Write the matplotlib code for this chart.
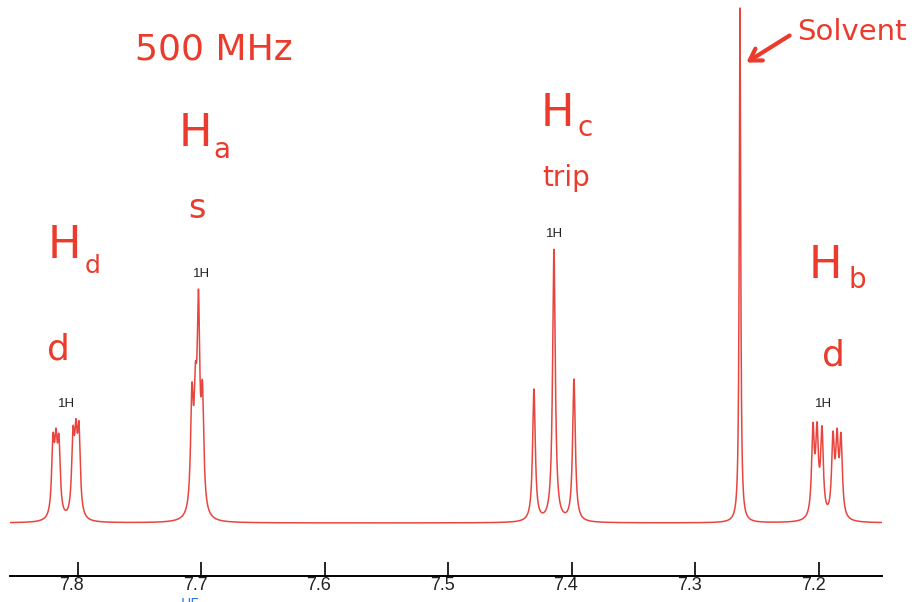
import numpy as np
import matplotlib.pyplot as plt
from matplotlib.transforms import ScaledTranslation

# chemical shift window (ppm), drawn high -> low
ppm_left = 7.855
ppm_right = 7.149
tick_ppm = [7.8, 7.7, 7.6, 7.5, 7.4, 7.3, 7.2]

# peak lists per multiplet: line positions (ppm) and heights
hd_shifts = [7.8202, 7.8178, 7.8154, 7.8040, 7.8016, 7.7992]
hd_heights = [70, 62, 68, 74, 68, 80]

ha_shifts = [7.7077, 7.7049, 7.7024, 7.6992]
ha_heights = [110, 95, 192, 108]

hc_shifts = [7.4308, 7.4146, 7.3984]
hc_heights = [132, 272, 142]

solvent_shift = [7.2640]
solvent_height = [515]

hb_shifts = [7.2049, 7.2016, 7.1976, 7.1887, 7.1854, 7.1822]
hb_heights = [86, 80, 84, 76, 72, 76]

# integration labels: position (ppm) and height above baseline
integral_ppm = [7.809, 7.700, 7.414, 7.196]
integral_text = ['1H', '1H', '1H', '1H']
integral_y = [113, 243, 283, 113]

RED = '#e8453f'
INK = '#ea3b2c'
W, H = 919, 602


def lorentz(x, x0, h, hw):
    return h / (1 + ((x - x0) / hw) ** 2)


def spectrum(x):
    y = np.zeros_like(x)
    for shifts, heights in [(hd_shifts, hd_heights), (ha_shifts, ha_heights),
                            (hc_shifts, hc_heights), (hb_shifts, hb_heights)]:
        for s, h in zip(shifts, heights):
            y += lorentz(x, s, h, 0.0013)
    for s, h in zip(solvent_shift, solvent_height):
        y += lorentz(x, s, h, 0.0007)
    return y


fig = plt.figure(figsize=(W / 100, H / 100), dpi=100)
ax = fig.add_axes([10 / W, 26 / H, 872 / W, 1 - 26 / H])

x = np.linspace(ppm_left, ppm_right, 14000)
ax.plot(x, spectrum(x), color=RED, lw=1.1)

ax.set_xlim(ppm_left, ppm_right)
ax.set_ylim(-53, 523)
for side in ['top', 'left', 'right']:
    ax.spines[side].set_visible(False)
ax.spines['bottom'].set_linewidth(1.4)
ax.set_yticks([])
ax.set_xticks(tick_ppm)
ax.set_xticklabels([f'{t:.1f}' for t in tick_ppm], family='Liberation Sans',
                   fontsize=13, color='#222222')
ax.tick_params(axis='x', direction='in', length=10, width=1.2, pad=1)
# the scale prints its numbers a little left of each tick
shift = ScaledTranslation(-6 / 100, 0, fig.dpi_scale_trans)
for lab in ax.get_xticklabels():
    lab.set_transform(lab.get_transform() + shift)

for p, t, yy in zip(integral_ppm, integral_text, integral_y):
    ax.text(p, yy, t, ha='center', va='bottom', fontsize=9.5,
            family='Liberation Sans', color='#222222')


# hand-written notes, placed in figure pixels (origin top-left)
def note(px, py, s, size, **kw):
    fig.text(px / W, 1 - py / H, s, fontsize=size, color=INK,
             ha='center', va='center', **kw)


note(214, 50, '500 MHz', 26)

note(195, 134, 'H', 32)
note(222, 150, 'a', 20)
note(197, 208, 's', 24)

note(64, 246, 'H', 32)
note(93, 266, 'd', 18)
note(58, 350, 'd', 26)

note(557, 114, 'H', 32)
note(585, 128, 'c', 20)
note(566, 178, 'trip', 20)

note(825, 266, 'H', 32)
note(857, 280, 'b', 20)
note(833, 355, 'd', 26)

note(852, 32, 'Solvent', 21)
plt.annotate('', xy=(744, H - 64), xytext=(792, H - 34),
             xycoords='figure pixels', textcoords='figure pixels',
             arrowprops=dict(arrowstyle='->,head_length=0.8,head_width=0.5',
                             color=INK, lw=3))

fig.text(190 / W, 1 - 597 / H, 'HE', fontsize=10, color='#2a7de1',
         ha='center', va='top')

fig.savefig('out.png', dpi=100, facecolor='white')
